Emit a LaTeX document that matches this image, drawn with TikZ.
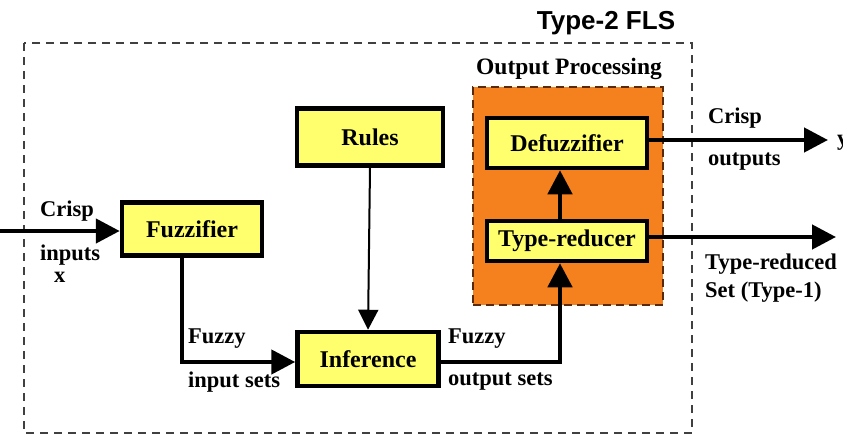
\documentclass[tikz,border=0pt]{standalone}
\usepackage{fontspec}
\setmainfont{Liberation Serif}
\setsansfont{Liberation Sans}
\usetikzlibrary{arrows.meta}
\definecolor{boxyellow}{HTML}{FFFF6E}
\definecolor{procorange}{HTML}{F5801E}
\definecolor{procedge}{HTML}{5A2A08}
\tikzset{
  blk/.style={draw=black, line width=4.5pt, fill=boxyellow, font=\bfseries\fontsize{24}{26}\selectfont, inner sep=0pt},
  lbl/.style={font=\bfseries\fontsize{22.5}{24}\selectfont, inner sep=0pt, anchor=west},
  conn/.style={line width=4.5pt, -{Triangle[length=24pt,width=24pt]}},
  thinconn/.style={line width=2pt, -{Triangle[length=20pt,width=20pt]}}
}
\begin{document}
\begin{tikzpicture}[x=1pt,y=-1pt]
\useasboundingbox (0,0) rectangle (843,434);
\fill[white] (0,0) rectangle (843,434);
% outer dashed box
\draw[line width=2pt, dash pattern=on 8pt off 6pt, black!75] (24,43) rectangle (692,433);
\node[font=\sffamily\bfseries\fontsize{26}{28}\selectfont, inner sep=0pt] (title) at (606,23) {Type-2 FLS};
% output processing box
\node[font=\bfseries\fontsize{23.5}{25}\selectfont, inner sep=0pt] (optitle) at (569,69) {Output Processing};
\node[draw=procedge, fill=procorange, line width=2.5pt, dash pattern=on 8pt off 5pt, minimum width=190pt, minimum height=218pt, inner sep=0pt] (proc) at (568,196) {};
% blocks
\node[blk, minimum width=140pt, minimum height=53pt] (fuzz) at (192,229) {Fuzzifier};
\node[blk, minimum width=146pt, minimum height=57pt] (rules) at (370,137) {Rules};
\node[blk, minimum width=141pt, minimum height=54pt] (inf) at (368,359) {Inference};
\node[blk, minimum width=160pt, minimum height=50pt] (defuzz) at (567,143) {Defuzzifier};
\node[blk, minimum width=160pt, minimum height=40pt] (tred) at (567,241) {Type-reducer};
% coordinates
\coordinate (inx) at (0,231);
\coordinate (fzdown) at (182,362);
\coordinate (ifright) at (560,362);
\coordinate (yout) at (828,140);
\coordinate (trout) at (836,237);
% connectors
\draw[conn] (inx) -- (fuzz.west |- inx);
\draw[conn] (fuzz.south -| fzdown) -- (fzdown) -- (inf.west |- fzdown);
\draw[thinconn] (rules.south) -- (inf.north);
\draw[conn] (inf.east |- ifright) -- (ifright) -- (tred.south -| ifright);
\draw[conn] (tred.north -| ifright) -- (defuzz.south -| ifright);
\draw[conn] (defuzz.east |- yout) -- (yout);
\draw[conn] (tred.east |- trout) -- (trout);
% labels
\node[lbl] (l1) at (40,211) {Crisp};
\node[lbl] (l2) at (40,255) {inputs};
\node[lbl] (l3) at (54,277) {x};
\node[lbl] (l4) at (188,339) {Fuzzy};
\node[lbl] (l5) at (188,382) {input sets};
\node[lbl] (l6) at (448,339) {Fuzzy};
\node[lbl] (l7) at (448,382) {output sets};
\node[lbl] (l8) at (708,118) {Crisp};
\node[lbl] (l9) at (708,162) {outputs};
\node[lbl] (l10) at (705,264) {Type-reduced};
\node[lbl] (l11) at (705,292) {Set (Type-1)};
\node[lbl] (ly) at (837,143) {y};
\end{tikzpicture}
\end{document}
